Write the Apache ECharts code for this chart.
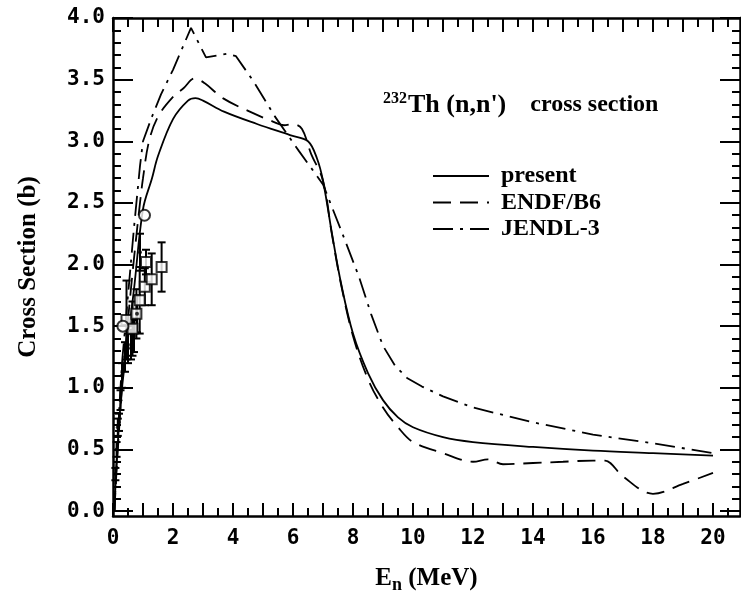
<!DOCTYPE html>
<html>
<head>
<meta charset="utf-8">
<script src="https://cdn.jsdelivr.net/npm/echarts@6/dist/echarts.min.js"></script>
<style>
  html, body { margin: 0; padding: 0; background: #fff; }
  #main { width: 741px; height: 599px; }
</style>
</head>
<body>
<div id="main"></div>
<script>
// evaluated curves (x in MeV, y in barn)
var presentX = [0.05, 0.1, 0.2, 0.3, 0.5, 0.7, 1.0, 1.3, 1.5, 2.0, 2.5, 2.75, 3.0, 3.7, 4.8, 5.9, 6.5, 6.8, 7.0, 7.3, 7.6, 8.0, 8.5, 9.0, 9.5, 10.0, 11.0, 12, 14, 16, 18, 20];
var presentY = [0.0, 0.3, 0.7, 1.0, 1.4, 1.8, 2.45, 2.7, 2.88, 3.18, 3.33, 3.35, 3.33, 3.24, 3.14, 3.05, 3.0, 2.86, 2.68, 2.25, 1.85, 1.44, 1.12, 0.9, 0.76, 0.68, 0.6, 0.56, 0.52, 0.49, 0.47, 0.45];

var endfX = [0.05, 0.1, 0.3, 0.5, 0.7, 0.9, 1.0, 1.2, 1.5, 2.0, 2.35, 2.72, 3.06, 3.66, 4.56, 5.33, 5.7, 6.0, 6.3, 6.6, 7.0, 7.3, 7.6, 8.0, 8.5, 9.0, 9.5, 10.0, 11.0, 12.0, 12.5, 13.0, 14.0, 15.0, 16.0, 16.4, 17.0, 18.0, 19.0, 20.0];
var endfY = [0.0, 0.25, 1.0, 1.55, 2.05, 2.5, 2.7, 3.0, 3.2, 3.36, 3.43, 3.51, 3.47, 3.35, 3.24, 3.16, 3.13, 3.14, 3.1, 2.9, 2.68, 2.24, 1.84, 1.42, 1.07, 0.84, 0.68, 0.56, 0.47, 0.4, 0.42, 0.38, 0.39, 0.4, 0.41, 0.41, 0.28, 0.14, 0.22, 0.31];

var jendlX = [0.05, 0.1, 0.2, 0.3, 0.5, 0.7, 0.9, 1.0, 1.3, 1.6, 2.0, 2.3, 2.6, 3.1, 3.8, 4.1, 4.7, 5.4, 6.2, 7.0, 7.6, 8.2, 8.6, 9.0, 9.4, 9.8, 10.3, 11.0, 12.0, 14.0, 16.0, 18.0, 20.0];
var jendlY = [0.0, 0.3, 0.8, 1.2, 1.75, 2.3, 2.8, 3.0, 3.2, 3.38, 3.58, 3.75, 3.92, 3.68, 3.71, 3.69, 3.48, 3.2, 2.92, 2.65, 2.28, 1.9, 1.6, 1.34, 1.18, 1.08, 1.01, 0.93, 0.84, 0.72, 0.62, 0.55, 0.47];

// experimental points
var sqX = [0.45, 0.65, 0.78, 0.89, 1.06, 1.1, 1.29, 1.62];
var sqY = [1.55, 1.48, 1.6, 1.71, 1.82, 2.02, 1.88, 1.98];
var sqErr = [0.32, 0.22, 0.2, 0.27, 0.15, 0.1, 0.21, 0.2];

var circX = [0.33, 1.05];
var circY = [1.5, 2.4];

var dotX = [0.08, 0.12, 0.16, 0.2, 0.25, 0.3, 0.4, 0.5, 0.6, 0.7, 0.8, 0.9];
var dotY = [0.3, 0.5, 0.68, 0.72, 0.9, 1.1, 1.25, 1.32, 1.35, 1.42, 1.6, 2.1];
var dotErr = [0.05, 0.06, 0.07, 0.07, 0.08, 0.1, 0.12, 0.12, 0.12, 0.13, 0.15, 0.15];

// tick positions
var xMajor = [], xMinor = [], xLabels = [];
for (var i = 0; i <= 20; i++) { xMajor.push(i); xMinor.push(i + 0.5); if (i % 2 === 0) xLabels.push(i); }
var yMajor = [0, 0.5, 1.0, 1.5, 2.0, 2.5, 3.0, 3.5, 4.0];
var yMinor = [];
for (var k = 1; k < 40; k++) { if (k % 5 !== 0) yMinor.push(+(k / 10).toFixed(1)); }

function zip(a, b, c) {
  return a.map(function (v, i) { return c ? [v, b[i], c[i]] : [v, b[i]]; });
}

var serif = 'Liberation Serif';
var mono = 'DejaVu Sans Mono';

function xAx(pos, ticks, len, labels, line) {
  return {
    type: 'value', position: pos, min: 0, max: 20.9,
    axisLine: { show: line, onZero: false, lineStyle: { color: '#000', width: 2.5 } },
    axisTick: { show: true, inside: true, length: len, customValues: ticks, lineStyle: { color: '#000', width: 2 } },
    axisLabel: labels ? {
      show: true, customValues: xLabels, margin: 12, color: '#000',
      fontFamily: mono, fontWeight: 'bold', fontSize: 21
    } : { show: false },
    splitLine: { show: false }
  };
}
function yAx(pos, ticks, len, labels, line) {
  return {
    type: 'value', position: pos, min: -0.04, max: 4.0,
    axisLine: { show: line, onZero: false, lineStyle: { color: '#000', width: 2.5 } },
    axisTick: { show: true, inside: true, length: len, customValues: ticks, lineStyle: { color: '#000', width: 2 } },
    axisLabel: labels ? {
      show: true, customValues: yMajor, margin: 8, color: '#000',
      fontFamily: mono, fontWeight: 'bold', fontSize: 21,
      formatter: function (v) { return v.toFixed(1); }
    } : { show: false },
    splitLine: { show: false }
  };
}

var xAxes = [
  xAx('bottom', xMajor, 13, true, true),
  xAx('bottom', xMinor, 8, false, false),
  xAx('top', xMajor, 14, false, true),
  xAx('top', xMinor, 9, false, false)
];
xAxes[0].name = '{e|E}{n|n}{m| (MeV)}';
xAxes[0].nameLocation = 'middle';
xAxes[0].nameGap = 48;
xAxes[0].nameTextStyle = {
  rich: {
    e: { fontFamily: serif, fontWeight: 'bold', fontSize: 25, color: '#000' },
    n: { fontFamily: serif, fontWeight: 'bold', fontSize: 18, color: '#000', verticalAlign: 'bottom', padding: [12, 0, 0, 0] },
    m: { fontFamily: serif, fontWeight: 'bold', fontSize: 25, color: '#000' }
  }
};

var yAxes = [
  yAx('left', yMajor, 20, true, true),
  yAx('left', yMinor, 8, false, false),
  yAx('right', yMajor, 20, false, true),
  yAx('right', yMinor, 8, false, false)
];
yAxes[0].name = 'Cross Section (b)';
yAxes[0].nameLocation = 'middle';
yAxes[0].nameGap = 72;
yAxes[0].nameTextStyle = { fontFamily: serif, fontWeight: 'bold', fontSize: 25, color: '#000' };

function errRender(params, api) {
  var x = api.value(0), y = api.value(1), e = api.value(2);
  var top = api.coord([x, y + e]);
  var bot = api.coord([x, y - e]);
  var w = 4;
  var st = { stroke: '#000', lineWidth: 2 };
  return {
    type: 'group',
    children: [
      { type: 'line', shape: { x1: top[0], y1: top[1], x2: bot[0], y2: bot[1] }, style: st },
      { type: 'line', shape: { x1: top[0] - w, y1: top[1], x2: top[0] + w, y2: top[1] }, style: st },
      { type: 'line', shape: { x1: bot[0] - w, y1: bot[1], x2: bot[0] + w, y2: bot[1] }, style: st }
    ]
  };
}

var chart = echarts.init(document.getElementById('main'), null, { renderer: 'canvas' });
chart.setOption({
  animation: false,
  backgroundColor: '#fff',
  grid: { left: 113, top: 18, width: 627, height: 503.5, containLabel: false },
  title: {
    text: '{sup|232}{th|Th (n,n\')}{cs|    cross section}',
    left: 378, top: 86,
    textStyle: {
      rich: {
        sup: { fontFamily: serif, fontWeight: 'bold', fontSize: 16, color: '#000', verticalAlign: 'top', padding: [0, 1, 12, 0] },
        th: { fontFamily: serif, fontWeight: 'bold', fontSize: 26, color: '#000' },
        cs: { fontFamily: serif, fontWeight: 'bold', fontSize: 24, color: '#000' }
      }
    }
  },
  legend: {
    orient: 'vertical', left: 427, top: 159,
    itemWidth: 56, itemHeight: 16, itemGap: 2.5,
    data: ['present', 'ENDF/B6', 'JENDL-3'],
    itemStyle: { opacity: 0 },
    textStyle: { fontFamily: serif, fontWeight: 'bold', fontSize: 24, lineHeight: 24, color: '#000', padding: [0, 0, 0, 7] }
  },
  xAxis: xAxes,
  yAxis: yAxes,
  series: [
    {
      name: 'present', type: 'line', symbol: 'none', smooth: 0.35,
      data: zip(presentX, presentY),
      lineStyle: { color: '#000', width: 1.8, type: 'solid' }, itemStyle: { color: '#000' }
    },
    {
      name: 'ENDF/B6', type: 'line', symbol: 'none', smooth: 0.35,
      data: zip(endfX, endfY),
      lineStyle: { color: '#000', width: 1.8, type: [18, 9] }, itemStyle: { color: '#000' }
    },
    {
      name: 'JENDL-3', type: 'line', symbol: 'none', smooth: false,
      data: zip(jendlX, jendlY),
      lineStyle: { color: '#000', width: 1.8, type: [20, 7, 3, 7] }, itemStyle: { color: '#000' }
    },
    {
      type: 'custom', renderItem: errRender, data: zip(dotX, dotY, dotErr), z: 3
    },
    {
      type: 'custom', renderItem: errRender, data: zip(sqX, sqY, sqErr), z: 3
    },
    {
      type: 'scatter', symbol: 'rect', symbolSize: 10, data: zip(sqX, sqY), z: 4,
      itemStyle: { color: '#fff', borderColor: '#000', borderWidth: 2 }
    },
    {
      type: 'scatter', symbol: 'circle', symbolSize: 11, data: zip(circX, circY), z: 4,
      itemStyle: { color: '#fff', borderColor: '#000', borderWidth: 2 }
    },
    {
      type: 'scatter', symbol: 'circle', symbolSize: 4, data: zip(dotX, dotY), z: 4,
      itemStyle: { color: '#000' }
    }
  ]
});
</script>
</body>
</html>
